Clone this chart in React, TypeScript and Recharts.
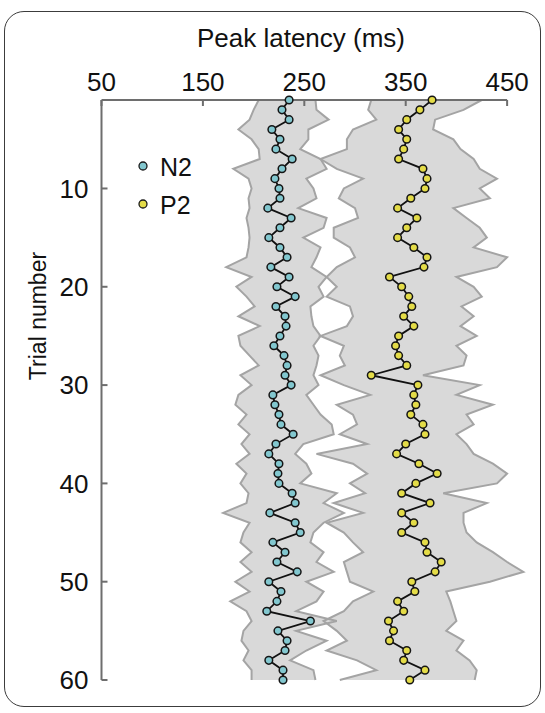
import { ComposedChart, Area, Line, XAxis, YAxis, ReferenceLine } from "recharts";

// single-trial peak latencies (ms), trials 1..60
const TRIALS = Array.from({ length: 60 }, (_, i) => i + 1);

const N2_LATENCY = [
  235, 228, 235, 218, 226, 222, 238, 228, 221, 225,
  226, 214, 237, 226, 215, 226, 233, 217, 235, 223,
  241, 222, 231, 232, 226, 220, 230, 233, 231, 237,
  219, 221, 225, 227, 239, 222, 215, 225, 224, 225,
  238, 241, 216, 241, 246, 219, 231, 223, 243, 215,
  227, 223, 213, 256, 224, 233, 231, 215, 229, 229,
];

const P2_LATENCY = [
  376, 364, 351, 343, 351, 348, 343, 367, 371, 369,
  355, 342, 361, 351, 342, 358, 371, 368, 334, 346,
  353, 356, 348, 358, 343, 340, 343, 351, 316, 362,
  358, 360, 355, 367, 369, 350, 341, 363, 381, 360,
  346, 374, 346, 358, 346, 369, 371, 385, 379, 356,
  359, 342, 348, 333, 338, 334, 351, 348, 369, 354,
];

// spread of the peak window around each component
const N2_LOW = [
  205, 200, 196, 185, 198, 205, 206, 180, 195, 198,
  195, 196, 193, 195, 196, 195, 193, 173, 198, 183,
  193, 201, 185, 206, 185, 187, 196, 205, 187, 198,
  185, 182, 193, 185, 196, 188, 196, 183, 193, 187,
  195, 193, 170, 196, 190, 187, 198, 187, 198, 182,
  196, 177, 193, 198, 190, 188, 195, 190, 198, 198,
];
const N2_HIGH = [
  261, 262, 274, 254, 254, 246, 266, 272, 252, 259,
  262, 244, 272, 269, 249, 266, 262, 257, 272, 264,
  269, 256, 257, 259, 266, 259, 264, 262, 259, 264,
  252, 259, 266, 277, 279, 249, 241, 252, 257, 246,
  282, 269, 289, 269, 259, 256, 269, 262, 279, 252,
  269, 262, 242, 282, 242, 272, 252, 236, 259, 261,
];
const P2_LOW = [
  316, 313, 321, 298, 292, 292, 266, 282, 308, 289,
  284, 300, 303, 279, 279, 295, 300, 282, 272, 282,
  272, 295, 298, 292, 266, 289, 285, 290, 266, 289,
  315, 282, 298, 302, 285, 312, 262, 298, 312, 295,
  310, 279, 308, 272, 289, 298, 308, 289, 292, 295,
  318, 298, 289, 269, 282, 292, 272, 302, 321, 285,
];
const P2_HIGH = [
  425, 407, 379, 377, 397, 404, 417, 423, 440, 423,
  433, 397, 410, 423, 430, 417, 450, 440, 400, 417,
  425, 405, 417, 404, 420, 400, 410, 407, 367, 423,
  400, 436, 410, 417, 400, 410, 417, 436, 450, 440,
  387, 430, 407, 407, 410, 420, 436, 450, 466, 433,
  390, 394, 397, 400, 390, 407, 400, 413, 420, 418,
];

const X_TICKS = [50, 150, 250, 350, 450];
const Y_TICKS = [10, 20, 30, 40, 50, 60];

const N2_COLOR = "#82c7cf";
const P2_COLOR = "#e4dc48";
const BAND_FILL = "#d9d9d9";
const BAND_EDGE = "#a4a4a4";
const AXIS_COLOR = "#6e6e6e";
const FONT = '"Liberation Sans", Arial, sans-serif';

const rows = TRIALS.map((trial, i) => ({
  trial,
  n2: N2_LATENCY[i],
  p2: P2_LATENCY[i],
  n2Band: [N2_LOW[i], N2_HIGH[i]],
  p2Band: [P2_LOW[i], P2_HIGH[i]],
}));

const legendItems = [
  { name: "N2", color: N2_COLOR },
  { name: "P2", color: P2_COLOR },
];

export default function App() {
  return (
    <div style={{ position: "absolute", left: 0, top: 0, width: 545, height: 713, background: "#fff" }}>
      <div
        style={{
          position: "absolute",
          left: 4,
          top: 11,
          width: 535,
          height: 694,
          border: "1.5px solid #3c3c3c",
          borderRadius: 20,
        }}
      />
      <ComposedChart
        width={545}
        height={713}
        layout="vertical"
        data={rows}
        margin={{ top: 40, right: 17.6, bottom: 33, left: 21.5 }}
        style={{ position: "absolute", left: 0, top: 0 }}
      >
        <XAxis
          type="number"
          orientation="top"
          domain={[50, 470]}
          ticks={X_TICKS}
          interval={0}
          height={60}
          axisLine={false}
          tickSize={-6}
          tickMargin={15}
          tickLine={{ stroke: AXIS_COLOR, strokeWidth: 2 }}
          tick={{ fill: "#111", fontSize: 26, fontFamily: FONT }}
        />
        {/* vertical layout already runs the trial axis top-down */}
        <YAxis
          type="number"
          dataKey="trial"
          domain={[1, 60]}
          ticks={Y_TICKS}
          interval={0}
          width={80}
          tickSize={-6}
          tickMargin={19}
          axisLine={{ stroke: AXIS_COLOR, strokeWidth: 2 }}
          tickLine={{ stroke: AXIS_COLOR, strokeWidth: 2 }}
          tick={{ fill: "#111", fontSize: 26, fontFamily: FONT }}
        />
        <ReferenceLine
          segment={[{ x: 50, y: 1 }, { x: 450, y: 1 }]}
          stroke={AXIS_COLOR}
          strokeWidth={2}
          ifOverflow="visible"
        />

        {/* band fills first so both outlines stay visible where they overlap */}
        <Area type="linear" dataKey="n2Band" fill={BAND_FILL} fillOpacity={1} stroke="none" isAnimationActive={false} />
        <Area type="linear" dataKey="p2Band" fill={BAND_FILL} fillOpacity={1} stroke="none" isAnimationActive={false} />
        <Area type="linear" dataKey="n2Band" fill="none" stroke={BAND_EDGE} strokeWidth={2} isAnimationActive={false} />
        <Area type="linear" dataKey="p2Band" fill="none" stroke={BAND_EDGE} strokeWidth={2} isAnimationActive={false} />

        <Line
          type="linear"
          dataKey="n2"
          stroke="#111"
          strokeWidth={1.8}
          dot={{ r: 3.8, fill: N2_COLOR, stroke: "#151515", strokeWidth: 1.5 }}
          isAnimationActive={false}
        />
        <Line
          type="linear"
          dataKey="p2"
          stroke="#111"
          strokeWidth={1.8}
          dot={{ r: 3.8, fill: P2_COLOR, stroke: "#151515", strokeWidth: 1.5 }}
          isAnimationActive={false}
        />
      </ComposedChart>
      <svg width={545} height={713} style={{ position: "absolute", left: 0, top: 0, pointerEvents: "none" }}>
        <text x={301} y={47} textAnchor="middle" fontSize={26} fontFamily={FONT} fill="#111">
          Peak latency (ms)
        </text>
        <text
          x={0}
          y={0}
          transform="translate(46, 316) rotate(-90)"
          textAnchor="middle"
          fontSize={23}
          fontFamily={FONT}
          fill="#111"
        >
          Trial number
        </text>
        {legendItems.map((item, i) => (
          <g key={item.name} transform={`translate(143, ${166 + i * 38})`}>
            <circle cx={0} cy={0} r={4} fill={item.color} stroke="#1a1a1a" strokeWidth={1.3} />
            <text x={17} y={9.5} fontSize={25} fontFamily={FONT} fill="#111">
              {item.name}
            </text>
          </g>
        ))}
      </svg>
    </div>
  );
}
